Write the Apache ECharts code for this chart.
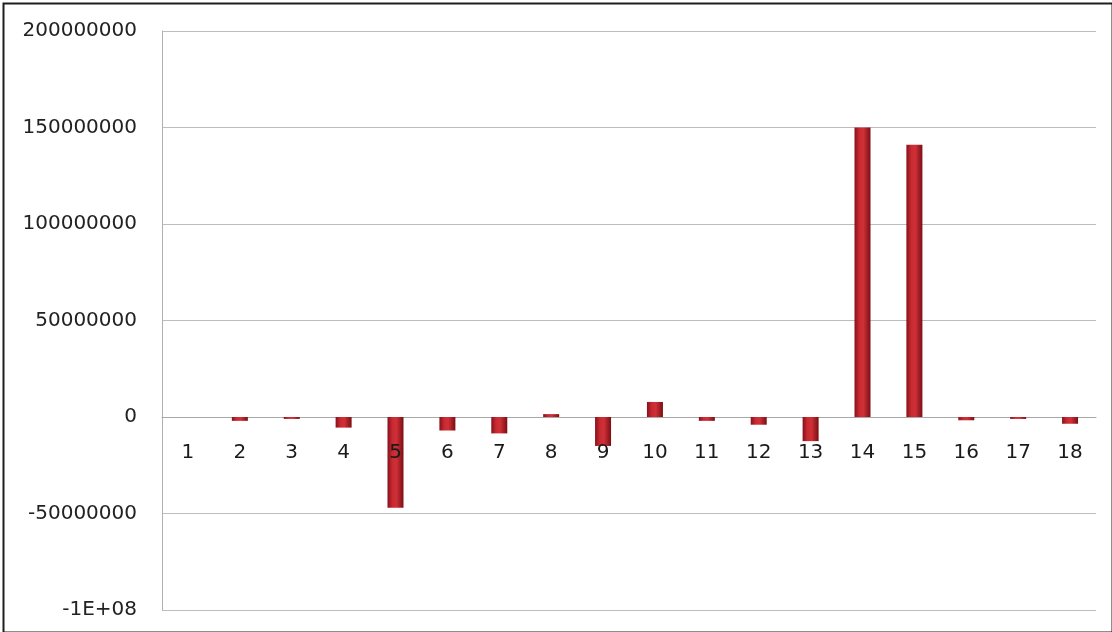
<!DOCTYPE html>
<html>
<head>
<meta charset="utf-8">
<script src="https://cdn.jsdelivr.net/npm/echarts@6/dist/echarts.min.js"></script>
<style>
  html, body { margin: 0; padding: 0; background: #fff; }
  #chart { width: 1112px; height: 632px; }
</style>
</head>
<body>
<div id="chart"></div>
<script>
// Category numbers along the x axis
const categories = ['1','2','3','4','5','6','7','8','9','10','11','12','13','14','15','16','17','18'];
// Value for each category
const values = [0, -2000000, -1000000, -5500000, -47000000, -7000000, -8500000, 1500000, -15000000,
                7800000, -2000000, -4000000, -12500000, 150000000, 141000000, -1700000, -1000000, -3500000];
// Value axis tick labels (Excel-style)
const yTickLabels = { '-100000000': '-1E+08' };

const chart = echarts.init(document.getElementById('chart'), null, { renderer: 'canvas' });

// Cylinder-like shading across each bar
const barFill = new echarts.graphic.LinearGradient(0, 0, 1, 0, [
  { offset: 0, color: '#86101a' },
  { offset: 0.3, color: '#c82a32' },
  { offset: 0.55, color: '#d03038' },
  { offset: 1, color: '#7a0e14' }
]);

chart.setOption({
  animation: false,
  backgroundColor: '#ffffff',
  grid: { left: 162, right: 16, top: 31, bottom: 22, containLabel: false, outerBoundsMode: 'none' },
  xAxis: {
    type: 'category',
    data: categories,
    axisLine: { onZero: true, lineStyle: { color: '#a8a8a8', width: 1 } },
    axisTick: { show: false },
    axisLabel: { show: false },
    splitLine: { show: false }
  },
  yAxis: {
    type: 'value',
    min: -100000000,
    max: 200000000,
    interval: 50000000,
    axisLine: { show: true, lineStyle: { color: '#b0b0b0', width: 1 } },
    axisTick: { show: false },
    axisLabel: {
      margin: 25,
      color: '#222',
      fontFamily: 'DejaVu Sans',
      fontSize: 20,
      formatter: v => yTickLabels[String(v)] || String(v)
    },
    splitLine: { lineStyle: { color: '#bdbdbd', width: 1 } }
  },
  series: [{
    // Category names sitting just under the zero line
    type: 'scatter',
    data: categories.map(c => [c, 0]),
    symbolSize: 0,
    silent: true,
    itemStyle: { opacity: 1 },
    label: {
      show: true,
      position: 'bottom',
      distance: 26,
      color: '#1a1a1a',
      fontFamily: 'DejaVu Sans',
      fontSize: 20,
      formatter: p => p.value[0]
    }
  }, {
    type: 'bar',
    data: values,
    barWidth: 16,
    itemStyle: { color: barFill }
  }],
  graphic: [{
    type: 'rect',
    left: 1, top: 1,
    shape: { width: 1109, height: 629 },
    style: { fill: 'none', stroke: '#1e1e1e', lineWidth: 2 },
    silent: true
  }]
});
</script>
</body>
</html>
